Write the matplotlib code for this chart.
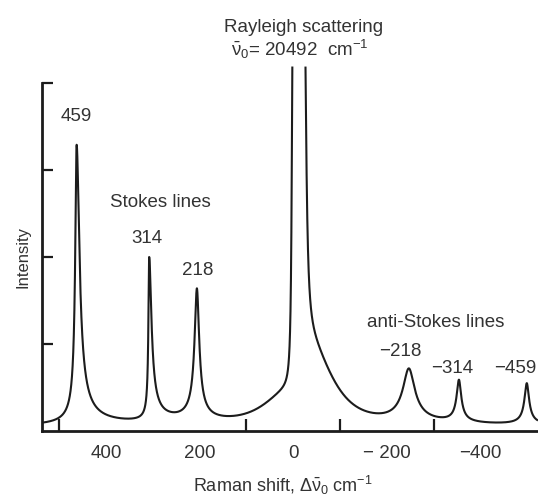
import numpy as np
import matplotlib.pyplot as plt

plt.rcParams["font.family"] = ["Liberation Sans", "DejaVu Sans"]
plt.rcParams["mathtext.default"] = "regular"

# ── data ──────────────────────────────────────────────────
# Raman lines: drawn position (cm-1), peak height, width on the left / right side
peak_pos = [463, 308, 206, -247, -354, -499]
peak_height = [3.29, 2.0, 1.64, 0.72, 0.59, 0.55]
width_left = [3, 1.6, 5, 13, 5, 5]
width_right = [6, 5, 5, 13, 5, 5]
peak_labels = ["459", "314", "218", "\u2212218", "\u2212314", "\u2212459"]
line_shape = 0.7      # exponent of the line profile

# Rayleigh line (top runs off the scale): core + wing on each side
ray_pos = -11.2
ray_gap = 12.5        # half distance between the two walls
ray_core_left = (4.0, 2.5)        # amplitude, width
ray_core_right = (4.0, 4.5)
ray_wing_left = (0.4, 100)
ray_wing_right = (1.0, 95)
ray_top = 4.2
baseline = 0.05

xtick_vals = [400, 200, 0, -200, -400]
xtick_labels = ["400", "200", "0", "\u2212 200", "\u2212400"]
xtick_marks = [500, 200, 100, 0, -100, -200, -300, -400]

INK = "#1c1c1c"
TXT = "#333333"


def profile(d, g, n):
    return (1 + (d / g) ** 2) ** (-n)


def rayleigh(x):
    u = np.clip(np.abs(x - ray_pos) - ray_gap, 0, None)
    left = x > ray_pos
    out = np.zeros_like(u, dtype=float)
    for (al, gl), (ar, gr), n in [(ray_core_left, ray_core_right, 1),
                                  (ray_wing_left, ray_wing_right, 2)]:
        a = np.where(left, al, ar)
        g = np.where(left, gl, gr)
        out += a * profile(u, g, n)
    return out


def lines(x, amps):
    out = np.zeros_like(x, dtype=float)
    for p, a, gl, gr in zip(peak_pos, amps, width_left, width_right):
        g = np.where(x > p, gl, gr)
        out += a * profile(x - p, g, line_shape)
    return out


# amplitudes chosen so that each drawn peak reaches its read height
pp = np.array(peak_pos, dtype=float)
M = np.column_stack([lines(pp, np.eye(len(pp))[j]) for j in range(len(pp))])
amps = np.linalg.solve(M, np.array(peak_height) - baseline - rayleigh(pp))

x = np.linspace(537, -523, 40000)
y = baseline + lines(x, amps) + rayleigh(x)
y[y > ray_top] = np.nan

fig = plt.figure(figsize=(5.38, 4.95), dpi=100)
ax = fig.add_axes([42 / 538, 64 / 495, 1 - 42 / 538, 391.5 / 495])
ax.plot(x, y, color=INK, lw=1.5, solid_capstyle="butt")

ax.set_xlim(537, -523)
ax.set_ylim(0, 4.5)

# ── axes styling ─────────────────────────────────────────
for s in ["top", "right"]:
    ax.spines[s].set_visible(False)
for s in ["left", "bottom"]:
    ax.spines[s].set_linewidth(2)
    ax.spines[s].set_color(INK)
ax.spines["left"].set_bounds(0, 4)

ax.set_xticks(xtick_vals)
ax.set_xticklabels(xtick_labels)
ax.set_xticks(xtick_marks, minor=True)
ax.tick_params(axis="x", which="major", length=0, pad=10, labelsize=13.5, labelcolor=TXT)
ax.tick_params(axis="x", which="minor", direction="in", length=9, width=1.6, color=INK)
ax.set_yticks([1, 2, 3, 4])
ax.set_yticklabels([])
ax.tick_params(axis="y", direction="in", length=8, width=1.6, color=INK)

# ── labels ───────────────────────────────────────────────
lab_xy = [(464, 3.61), (313, 2.21), (204, 1.84), (-228, 0.91), (-339, 0.72), (-429, 0.72)]
for (lx, ly), t in zip(lab_xy, peak_labels):
    ha = "left" if t == "\u2212459" else "center"
    ax.text(lx, ly, t, ha=ha, va="center", fontsize=13.5, color=TXT, clip_on=False)

ax.text(283, 2.63, "Stokes lines", ha="center", va="center", fontsize=13.5, color=TXT)
ax.text(-305, 1.25, "anti-Stokes lines", ha="center", va="center", fontsize=13.5, color=TXT)
ax.text(-21, 4.64, "Rayleigh scattering", ha="center", va="center", fontsize=13.5,
        color=TXT, clip_on=False)
ax.text(-14, 4.38, r"$\bar{\nu}_0$= 20492  cm$^{-1}$", ha="center", va="center",
        fontsize=13.5, color=TXT, clip_on=False)

fig.text(23 / 538, 1 - 257 / 495, "Intensity", rotation=90, ha="center", va="center",
         fontsize=12, color=TXT)
fig.text(283 / 538, 1 - 485 / 495, r"Raman shift, $\Delta\bar{\nu}_0$ cm$^{-1}$",
         ha="center", va="center", fontsize=13, color=TXT)

fig.savefig("out.png", dpi=100)
